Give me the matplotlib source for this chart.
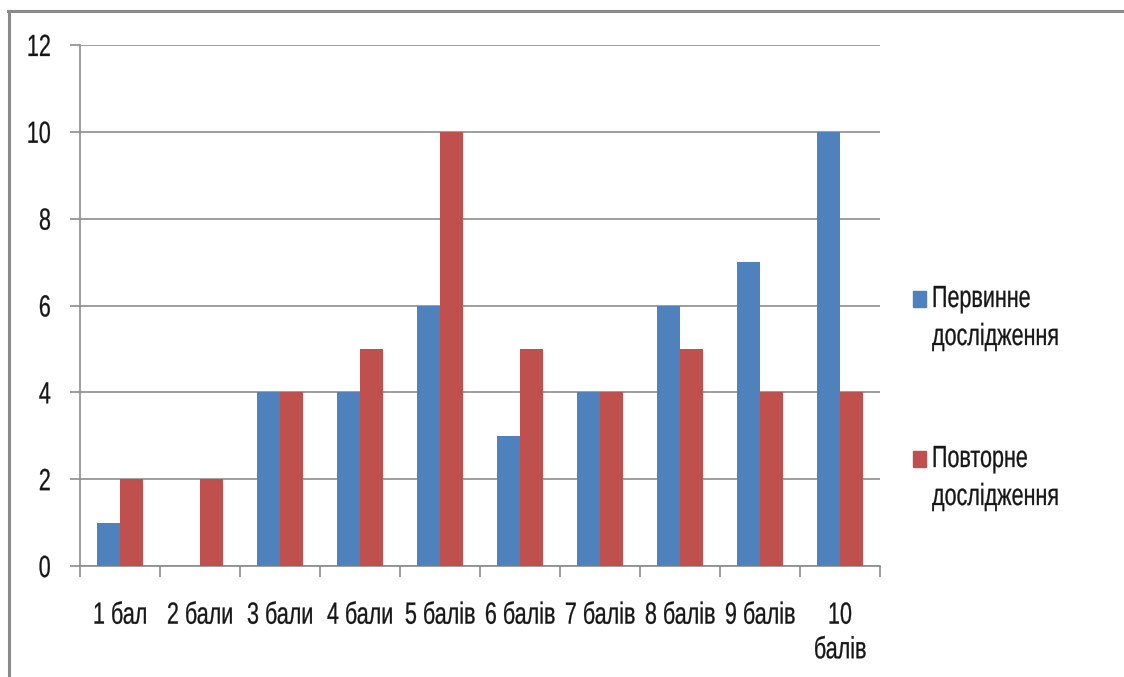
import matplotlib
matplotlib.use("Agg")
import matplotlib.pyplot as plt
import numpy as np
from matplotlib.patches import Rectangle
from matplotlib.lines import Line2D
from matplotlib.patheffects import AbstractPathEffect
from matplotlib.transforms import Affine2D

plt.rcParams['font.family'] = ['Liberation Sans', 'DejaVu Sans']

categories = ["1 бал", "2 бали", "3 бали", "4 бали", "5 балів", "6 балів",
              "7 балів", "8 балів", "9 балів", "10\nбалів"]
pervynne = [1, 0, 4, 4, 6, 3, 4, 6, 7, 10]
povtorne = [2, 2, 4, 5, 10, 5, 4, 5, 4, 4]
series_names = ["Первинне\nдослідження", "Повторне\nдослідження"]
blue = "#4F81BD"
red = "#C0504D"
grid_col = "#8C8C8C"
text_col = "#161616"


# the original uses a tall narrow font, so stretch glyphs upward from the baseline
class Stretch(AbstractPathEffect):
    def __init__(self, sy):
        super().__init__()
        self.sy = sy

    def draw_path(self, renderer, gc, tpath, affine, rgbFace=None):
        tr = Affine2D().scale(1, self.sy) + affine
        gc0 = renderer.new_gc()
        gc0.copy_properties(gc)
        gc0.set_linewidth(0.2)
        gc0.set_foreground(rgbFace)
        renderer.draw_path(gc0, tpath, tr, rgbFace)
        gc0.restore()


tall = [Stretch(1.42)]
fs = 15.5

W, H = 1124, 677
fig = plt.figure(figsize=(W/100, H/100), dpi=100)

# outer frame (only top and left visible)
fig.lines.append(Line2D([9/W, 9/W], [0, 1 - 10.5/H], transform=fig.transFigure,
                        color="#8A8A8A", linewidth=2.2))
fig.lines.append(Line2D([8/W, 1], [1 - 10.5/H, 1 - 10.5/H], transform=fig.transFigure,
                        color="#8A8A8A", linewidth=2.2))

ax = fig.add_axes([80/W, 111/H, 800/W, 521/H])
x = np.arange(len(categories))
w = 0.29
ax.bar(x - w/2, pervynne, w, color=blue, zorder=3)
ax.bar(x + w/2, povtorne, w, color=red, zorder=3)

ax.set_xlim(-0.5, len(categories) - 0.5)
ax.set_ylim(0, 12)
ax.set_yticks(range(0, 13, 2))
ax.yaxis.grid(True, color=grid_col, linewidth=1.2, zorder=0)
ax.set_axisbelow(True)
for s in ["top", "right"]:
    ax.spines[s].set_visible(False)
for s in ["left", "bottom"]:
    ax.spines[s].set_color(grid_col)
    ax.spines[s].set_linewidth(1.2)

ax.set_xticks(x)
ax.set_xticklabels(categories, fontsize=fs, color=text_col, linespacing=1.85)
ax.tick_params(axis="x", length=0, pad=30)
ax.set_xticks(np.arange(-0.5, len(categories)), minor=True)
ax.tick_params(axis="x", which="minor", length=8, color=grid_col, width=1.2)
ax.tick_params(axis="y", labelsize=fs, length=7, color=grid_col, width=1.2,
               pad=14, labelcolor=text_col)
for lab in ax.get_xticklabels() + ax.get_yticklabels():
    lab.set_path_effects(tall)
for lab in ax.get_yticklabels():
    lab.set_va("baseline")
    lab.set_transform(lab.get_transform() + Affine2D().translate(0, -11))

# legend: square beside the first line of each two-line label
legend_base = [307, 467]
for name, col, yb in zip(series_names, [blue, red], legend_base):
    fig.patches.append(Rectangle((913/W, (H - yb)/H), 13/W, 16/H,
                                 transform=fig.transFigure, color=col))
    for i, line in enumerate(name.split("\n")):
        fig.text(932/W, (H - yb - 38*i)/H, line, fontsize=fs, color=text_col,
                 va="baseline", ha="left", path_effects=tall)

fig.savefig("out.png", dpi=100)
